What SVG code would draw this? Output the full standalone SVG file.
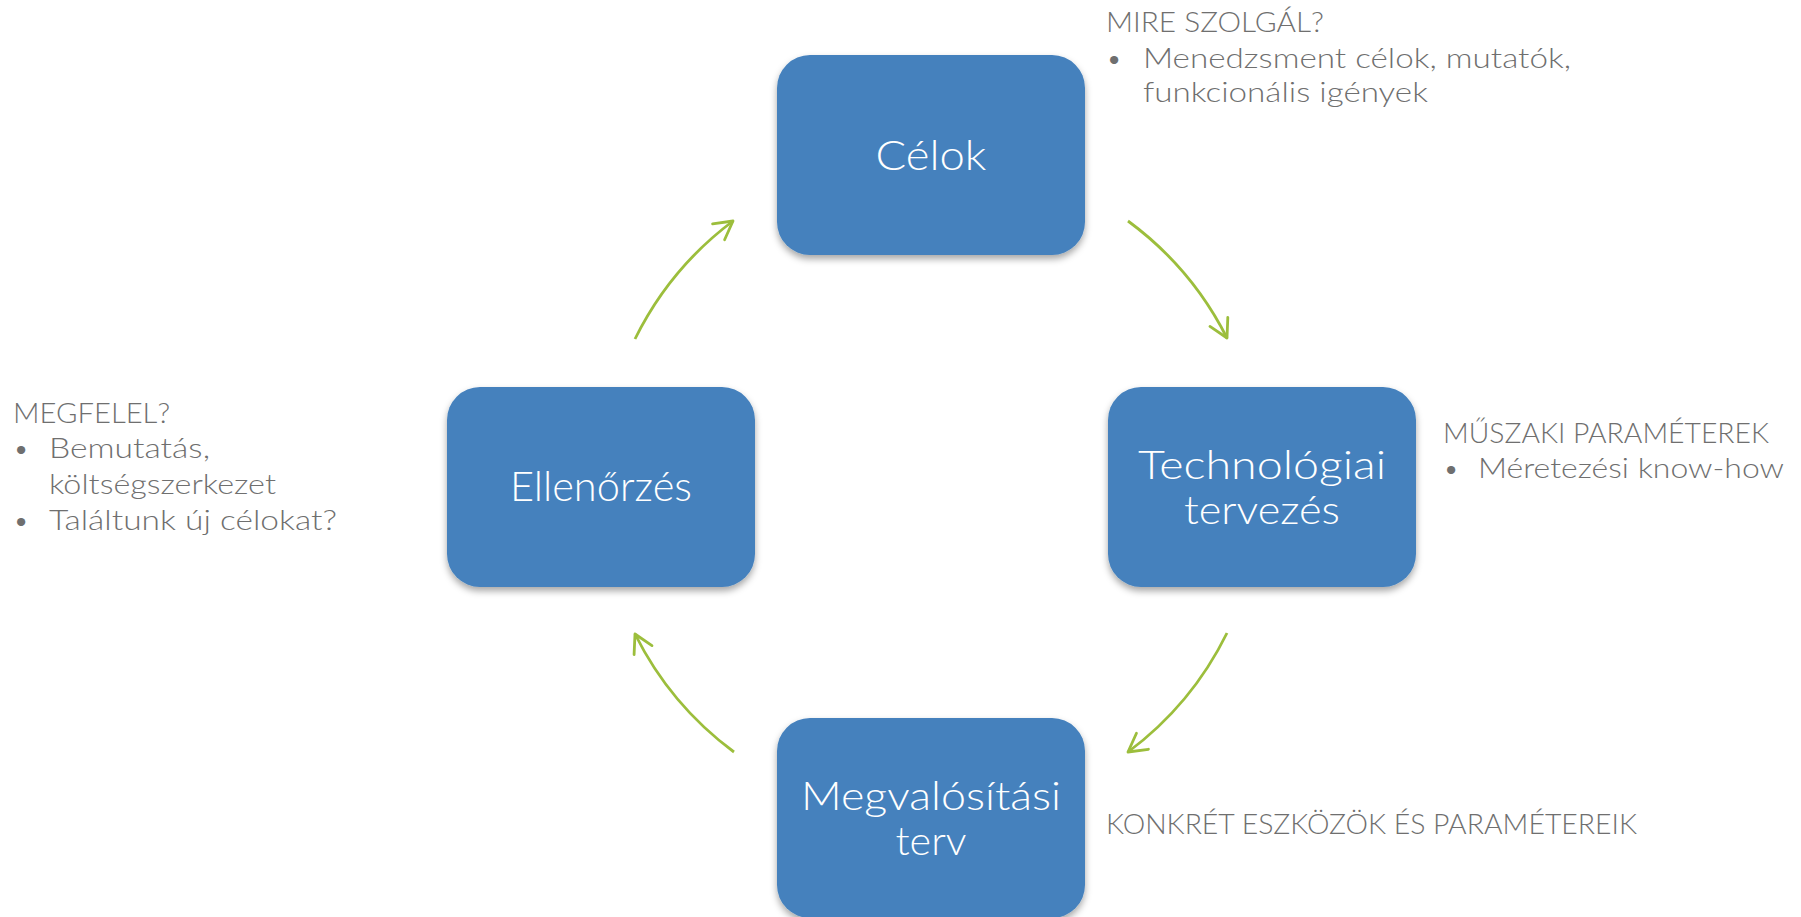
<svg xmlns="http://www.w3.org/2000/svg" width="1801" height="917" viewBox="0 0 1801 917">
<style>
.node{fill:#4581BD;filter:url(#sh)}
.nt{font-family:Lato,"DejaVu Sans","Liberation Sans",sans-serif;font-weight:300;font-size:42px;fill:#ffffff;text-anchor:middle}
.nt2{font-size:39px}
.an{font-family:Lato,"DejaVu Sans","Liberation Sans",sans-serif;font-weight:300;font-size:28px;fill:#6f6f6f}
.con{fill:none;stroke:#9CBE3C;stroke-width:2.8;marker-end:url(#ah)}
</style>
<defs>
<filter id="sh" x="-10%" y="-10%" width="120%" height="130%">
<feDropShadow dx="0" dy="4" stdDeviation="3.5" flood-color="#000" flood-opacity="0.35"/>
</filter>
<marker id="ah" markerUnits="userSpaceOnUse" markerWidth="30" markerHeight="30" viewBox="-25 -15 30 30" refX="0" refY="0" orient="auto">
<path d="M-18,-10 L0,0 L-18,10" fill="none" stroke="#9CBE3C" stroke-width="2.8" stroke-linecap="round" stroke-linejoin="round"/>
</marker>
</defs>
<rect width="1801" height="917" fill="#ffffff"/>
<g id="connectors">
<path class="con" d="M1128,221 A330,330 0 0 1 1227,338"/>
<path class="con" d="M1227,633 A330,330 0 0 1 1128,752"/>
<path class="con" d="M734,752 A330,330 0 0 1 635,634"/>
<path class="con" d="M635,339 A330,330 0 0 1 733,221"/>
</g>
<g id="node-celok">
<rect class="node" x="777" y="55" width="308" height="200" rx="33"/>
<text class="nt" x="931" y="170" textLength="111" lengthAdjust="spacingAndGlyphs">Célok</text>
</g>
<g id="node-tech">
<rect class="node" x="1108" y="387" width="308" height="200" rx="33"/>
<text class="nt nt2" x="1262" y="479" textLength="248" lengthAdjust="spacingAndGlyphs">Technológiai</text>
<text class="nt nt2" x="1262" y="524" textLength="156" lengthAdjust="spacingAndGlyphs">tervezés</text>
</g>
<g id="node-megv">
<rect class="node" x="777" y="718" width="308" height="200" rx="33"/>
<text class="nt nt2" x="931" y="810" textLength="260" lengthAdjust="spacingAndGlyphs">Megvalósítási</text>
<text class="nt nt2" x="931" y="855" textLength="71" lengthAdjust="spacingAndGlyphs">terv</text>
</g>
<g id="node-ell">
<rect class="node" x="447" y="387" width="308" height="200" rx="33"/>
<text class="nt" x="601" y="501" textLength="182" lengthAdjust="spacingAndGlyphs">Ellenőrzés</text>
</g>
<g id="note-celok">
<text class="an" x="1106" y="32" textLength="218" lengthAdjust="spacingAndGlyphs">MIRE SZOLGÁL?</text>
<text class="an" x="1106" y="68">•</text>
<text class="an" x="1143" y="68" textLength="428" lengthAdjust="spacingAndGlyphs">Menedzsment célok, mutatók,</text>
<text class="an" x="1143" y="102" textLength="285" lengthAdjust="spacingAndGlyphs">funkcionális igények</text>
</g>
<g id="note-tech">
<text class="an" x="1443" y="443" textLength="326" lengthAdjust="spacingAndGlyphs">MŰSZAKI PARAMÉTEREK</text>
<text class="an" x="1443" y="478">•</text>
<text class="an" x="1478" y="478" textLength="306" lengthAdjust="spacingAndGlyphs">Méretezési know-how</text>
</g>
<g id="note-ell">
<text class="an" x="13" y="423" textLength="157" lengthAdjust="spacingAndGlyphs">MEGFELEL?</text>
<text class="an" x="13" y="458">•</text>
<text class="an" x="49" y="458" textLength="161" lengthAdjust="spacingAndGlyphs">Bemutatás,</text>
<text class="an" x="49" y="494" textLength="227" lengthAdjust="spacingAndGlyphs">költségszerkezet</text>
<text class="an" x="13" y="530">•</text>
<text class="an" x="49" y="530" textLength="288" lengthAdjust="spacingAndGlyphs">Találtunk új célokat?</text>
</g>
<g id="note-megv">
<text class="an" x="1106" y="834" textLength="531" lengthAdjust="spacingAndGlyphs">KONKRÉT ESZKÖZÖK ÉS PARAMÉTEREIK</text>
</g>
</svg>
